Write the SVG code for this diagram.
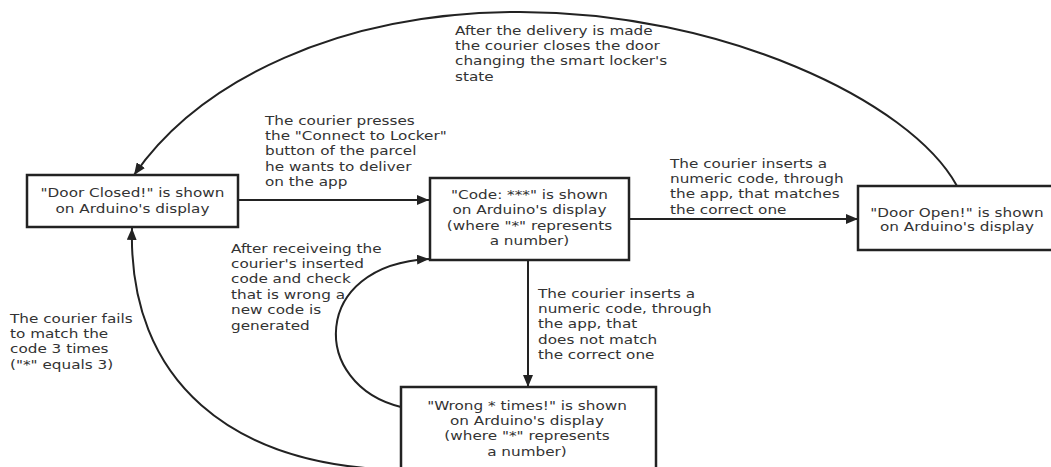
<svg xmlns="http://www.w3.org/2000/svg" width="1051" height="467" viewBox="0 0 1051 467">
<style>
.box{fill:#fff;stroke:#222;stroke-width:2.5}
.edge{fill:none;stroke:#222;stroke-width:2}
.t{font-family:"DejaVu Sans","Liberation Sans",sans-serif;font-size:12.5px;fill:#333}
.c{text-anchor:middle}
</style>
<defs>
<marker id="ah" markerUnits="userSpaceOnUse" markerWidth="12" markerHeight="10" refX="12" refY="5" orient="auto">
<path d="M0,0 L12,5 L0,10 z" fill="#222"/>
</marker>
</defs>
<rect width="1051" height="467" fill="#fff"/>
<g id="connectors">
<line class="edge" x1="238" y1="200" x2="429" y2="200" marker-end="url(#ah)"/>
<line class="edge" x1="629" y1="219" x2="858" y2="219" marker-end="url(#ah)"/>
<line class="edge" x1="528" y1="260" x2="528" y2="387" marker-end="url(#ah)"/>
<path class="edge" d="M 957 186 C 910 100, 720 12, 520 12 C 340 12, 200 80, 134 175" marker-end="url(#ah)"/>
<path class="edge" d="M 401 407 C 310 385, 310 265, 429 259" marker-end="url(#ah)"/>
<path class="edge" d="M 405 470 C 230 468, 128 380, 132 228" marker-end="url(#ah)"/>
</g>
<g id="n-door-closed">
<rect class="box" x="27" y="175" width="211" height="52"/>
<text class="t c" transform="translate(132.5 197) scale(1.22 1)"><tspan x="0" y="0">"Door Closed!" is shown</tspan><tspan x="0" y="16">on Arduino's display</tspan></text>
</g>
<g id="n-code">
<rect class="box" x="430" y="178" width="199" height="82"/>
<text class="t c" transform="translate(529.5 199) scale(1.22 1)"><tspan x="0" y="0">"Code: ***" is shown</tspan><tspan x="0" y="15.5">on Arduino's display</tspan><tspan x="0" y="31">(where "*" represents</tspan><tspan x="0" y="46.5">a number)</tspan></text>
</g>
<g id="n-door-open">
<rect class="box" x="858" y="186" width="205" height="64"/>
<text class="t c" transform="translate(957 216.5) scale(1.22 1)"><tspan x="0" y="0">"Door Open!" is shown</tspan><tspan x="0" y="15">on Arduino's display</tspan></text>
</g>
<g id="n-wrong">
<rect class="box" x="401" y="387" width="255" height="90"/>
<text class="t c" transform="translate(527 409.5) scale(1.22 1)"><tspan x="0" y="0">"Wrong * times!" is shown</tspan><tspan x="0" y="15.5">on Arduino's display</tspan><tspan x="0" y="31">(where "*" represents</tspan><tspan x="0" y="46.5">a number)</tspan></text>
</g>
<g id="labels">
<text class="t" transform="translate(455 34.5) scale(1.22 1)"><tspan x="0" y="0">After the delivery is made</tspan><tspan x="0" y="15.5">the courier closes the door</tspan><tspan x="0" y="31">changing the smart locker's</tspan><tspan x="0" y="46.5">state</tspan></text>
<text class="t" transform="translate(265 124.5) scale(1.22 1)"><tspan x="0" y="0">The courier presses</tspan><tspan x="0" y="15.5">the "Connect to Locker"</tspan><tspan x="0" y="31">button of the parcel</tspan><tspan x="0" y="46.5">he wants to deliver</tspan><tspan x="0" y="62">on the app</tspan></text>
<text class="t" transform="translate(670 167.5) scale(1.22 1)"><tspan x="0" y="0">The courier inserts a</tspan><tspan x="0" y="15.5">numeric code, through</tspan><tspan x="0" y="31">the app, that matches</tspan><tspan x="0" y="46.5">the correct one</tspan></text>
<text class="t" transform="translate(538 297.5) scale(1.22 1)"><tspan x="0" y="0">The courier inserts a</tspan><tspan x="0" y="15.5">numeric code, through</tspan><tspan x="0" y="31">the app, that</tspan><tspan x="0" y="46.5">does not match</tspan><tspan x="0" y="62">the correct one</tspan></text>
<text class="t" transform="translate(231 252.5) scale(1.22 1)"><tspan x="0" y="0">After receiveing the</tspan><tspan x="0" y="15.5">courier's inserted</tspan><tspan x="0" y="31">code and check</tspan><tspan x="0" y="46.5">that is wrong a</tspan><tspan x="0" y="62">new code is</tspan><tspan x="0" y="77.5">generated</tspan></text>
<text class="t" transform="translate(10 322.5) scale(1.22 1)"><tspan x="0" y="0">The courier fails</tspan><tspan x="0" y="15.5">to match the</tspan><tspan x="0" y="31">code 3 times</tspan><tspan x="0" y="46.5">("*" equals 3)</tspan></text>
</g>
</svg>
